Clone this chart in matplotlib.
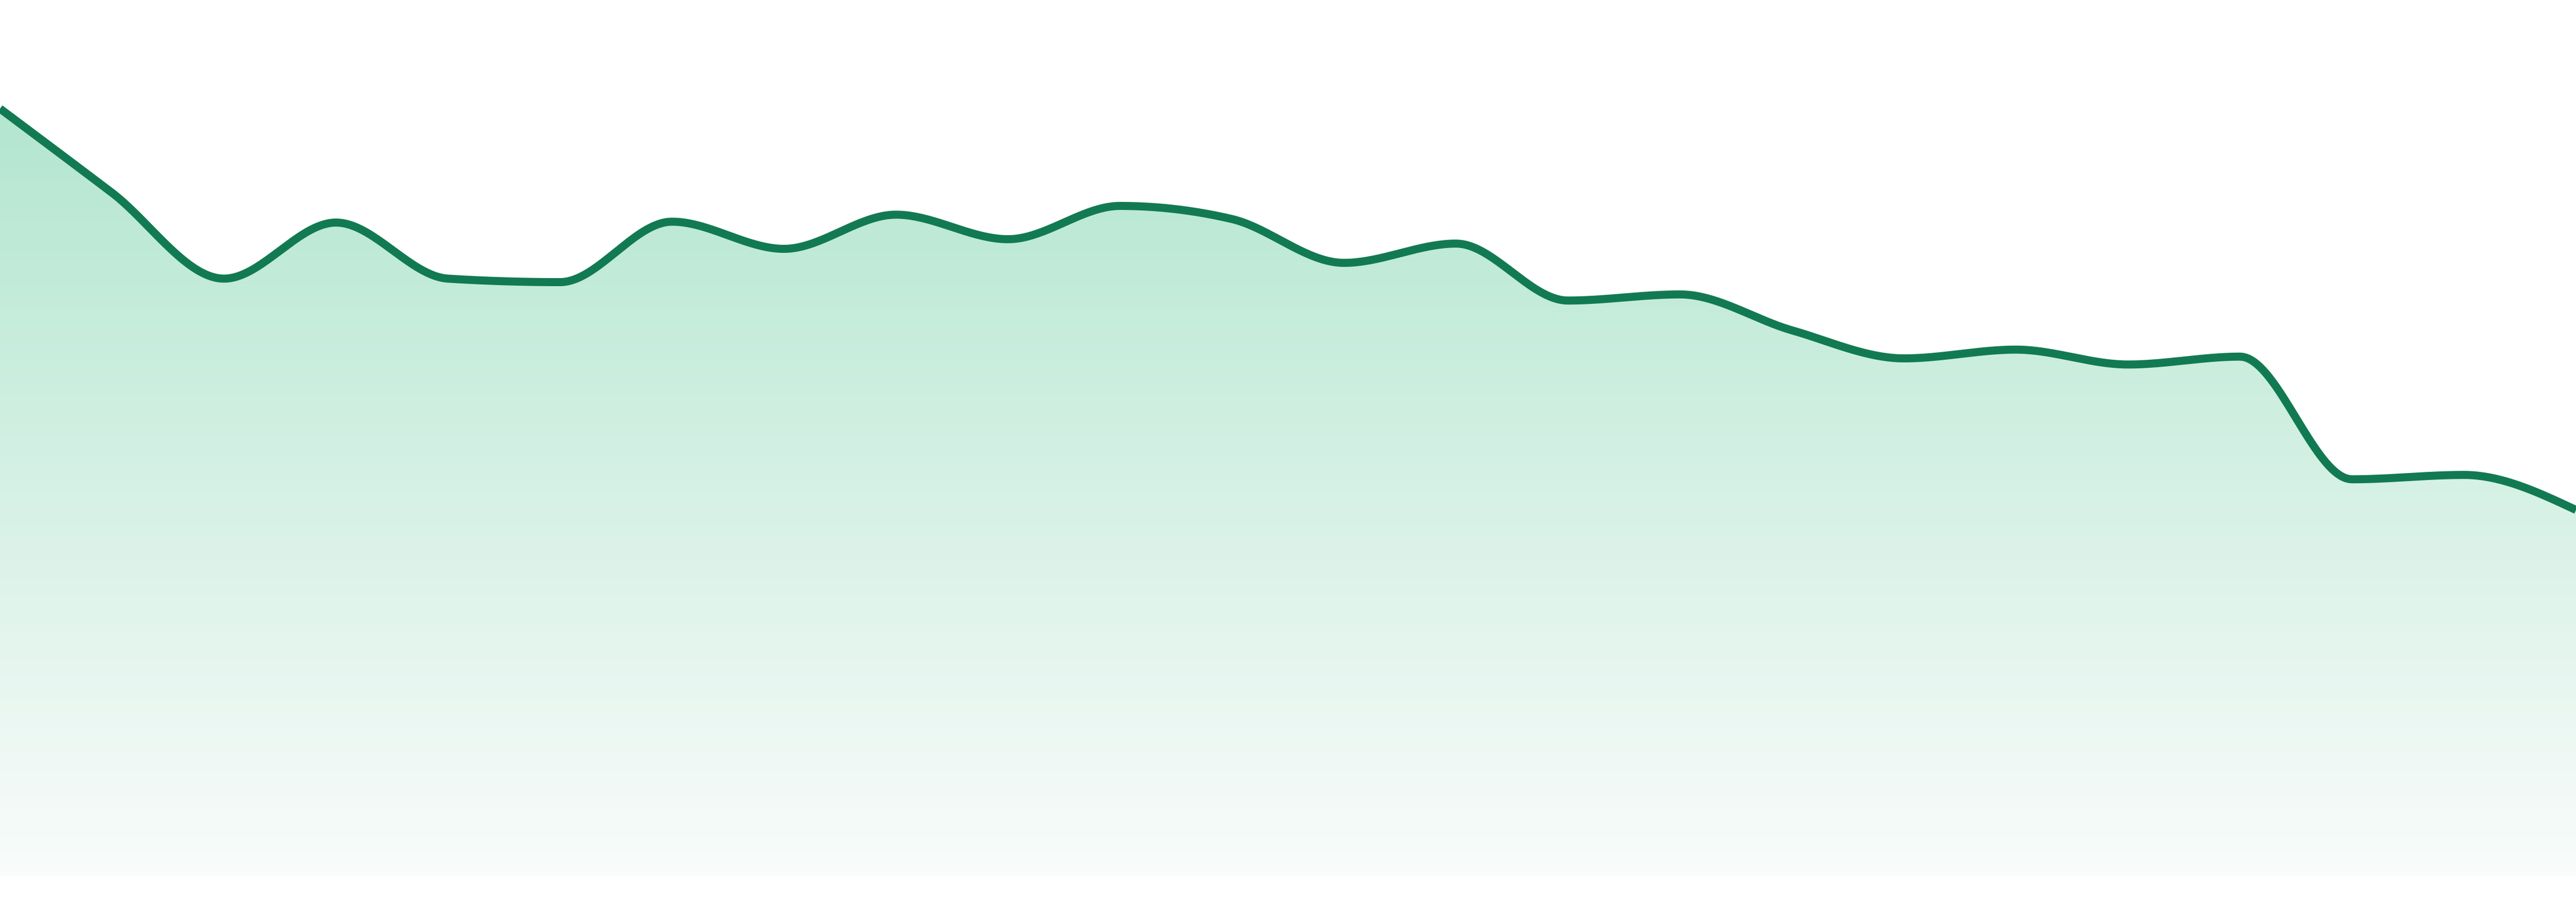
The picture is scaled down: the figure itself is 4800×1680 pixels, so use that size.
import numpy as np
import matplotlib
matplotlib.use("Agg")
import matplotlib.pyplot as plt
from matplotlib.colors import LinearSegmentedColormap
from matplotlib.patches import Polygon

# values (one point per step, 24 steps)
steps = list(range(24))
values = [87.6, 78.0, 68.2, 74.6, 68.2, 67.8, 74.7, 71.6, 75.5, 72.7, 76.5, 75.0,
          70.0, 72.2, 65.7, 66.4, 62.3, 59.1, 60.1, 58.4, 59.3, 45.3, 45.8, 41.8]

line_color = "#127a52"
fill_top = "#b3e6d0"
fill_bottom = "#f9fcfb"


def monotone_curve(x, y, n=40):
    # same maths as d3.curveMonotoneX, sampled as cubic beziers
    x = np.asarray(x, float)
    y = np.asarray(y, float)
    h = np.diff(x)
    s = np.diff(y) / h
    t = np.zeros_like(y)
    for i in range(1, len(x) - 1):
        p = (s[i - 1] * h[i] + s[i] * h[i - 1]) / (h[i - 1] + h[i])
        t[i] = (np.sign(s[i - 1]) + np.sign(s[i])) * min(abs(s[i - 1]), abs(s[i]), 0.5 * abs(p))
    t[0] = (3 * s[0] - t[1]) / 2
    t[-1] = (3 * s[-1] - t[-2]) / 2
    xs, ys = [], []
    u = np.linspace(0, 1, n)
    for i in range(len(x) - 1):
        dx = (x[i + 1] - x[i]) / 3
        px = [x[i], x[i] + dx, x[i + 1] - dx, x[i + 1]]
        py = [y[i], y[i] + dx * t[i], y[i + 1] - dx * t[i + 1], y[i + 1]]
        b = [(1 - u) ** 3, 3 * u * (1 - u) ** 2, 3 * u ** 2 * (1 - u), u ** 3]
        xs.append(sum(bi * pi for bi, pi in zip(b, px)))
        ys.append(sum(bi * pi for bi, pi in zip(b, py)))
    return np.concatenate(xs), np.concatenate(ys)


cx, cy = monotone_curve(steps, values)

fig = plt.figure(figsize=(48, 16.8), dpi=100)
ax = fig.add_axes([0, 48 / 1680, 1, 1632 / 1680])
ax.set_xlim(0, 23)
ax.set_ylim(0, 100)
ax.axis("off")

# gradient fill under the curve
top = cy.max()
cmap = LinearSegmentedColormap.from_list("fill", [fill_bottom, fill_top])
grad = np.linspace(0, 1, 256).reshape(-1, 1)
img = ax.imshow(grad, cmap=cmap, origin="lower", aspect="auto",
                extent=[0, 23, 0, top], zorder=1, interpolation="bilinear")
poly = Polygon(np.column_stack([np.r_[cx, cx[-1], cx[0]], np.r_[cy, 0, 0]]),
               closed=True, facecolor="none", edgecolor="none")
ax.add_patch(poly)
img.set_clip_path(poly)

ax.plot(cx, cy, color=line_color, linewidth=10.8, solid_capstyle="butt",
        solid_joinstyle="round", zorder=2)

fig.savefig("out.png", dpi=100, facecolor="white")
